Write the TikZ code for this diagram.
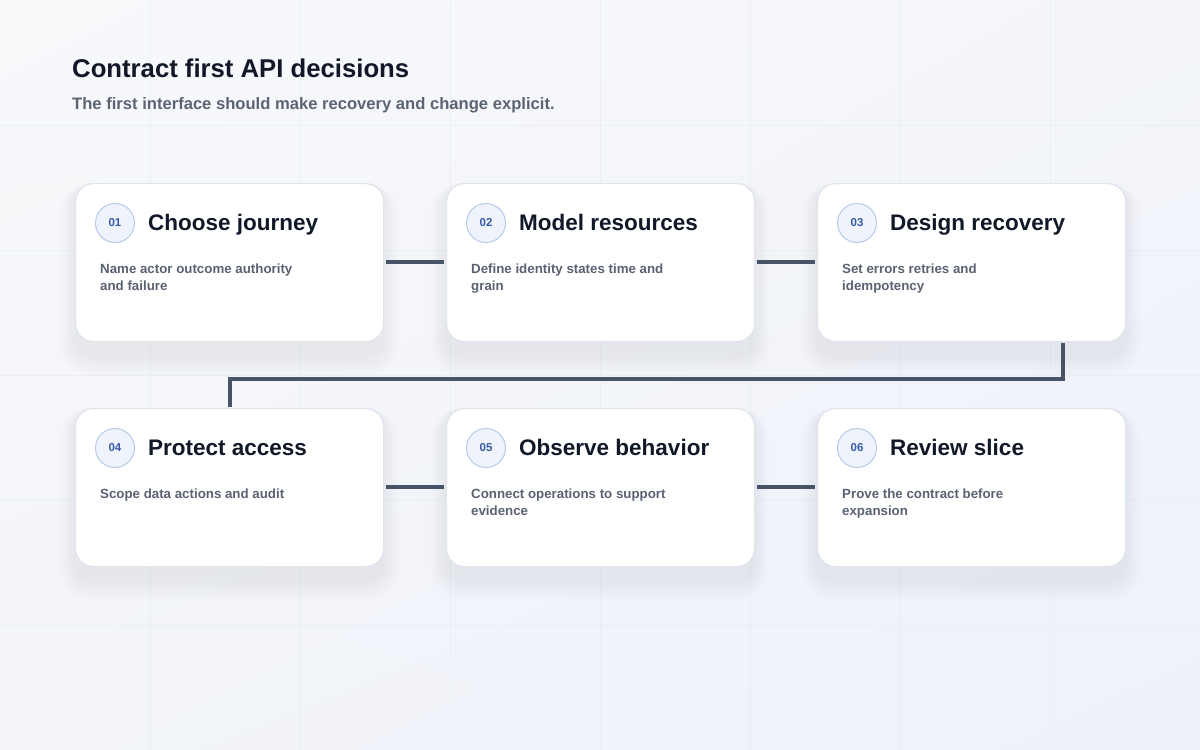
\documentclass[tikz,border=0pt]{standalone}
\usepackage{fontspec}
\setmainfont{Liberation Sans}
\usetikzlibrary{positioning,shadings}
\definecolor{bgtl}{HTML}{F8F9FB}
\definecolor{bgtr}{HTML}{F3F5FA}
\definecolor{bgbl}{HTML}{F2F4F9}
\definecolor{bgbr}{HTML}{EDF1FA}
\definecolor{gridc}{HTML}{E6EAF1}
\definecolor{cardborder}{HTML}{E0E4EB}
\definecolor{ink}{HTML}{111827}
\definecolor{subink}{HTML}{5B6474}
\definecolor{descink}{HTML}{5A6272}
\definecolor{linec}{HTML}{475467}
\definecolor{circfill}{HTML}{EEF3FC}
\definecolor{circborder}{HTML}{B7CAE8}
\definecolor{numink}{HTML}{3A5BA6}
\definecolor{shadowc}{HTML}{8590A6}
\tikzset{
  x=1pt,y=-1pt,
  card/.style={draw=cardborder,line width=1.2pt,fill=white,rounded corners=18pt,minimum width=308pt,minimum height=158pt,anchor=north west,inner sep=0pt},
  numc/.style={circle,draw=circborder,line width=1pt,fill=circfill,minimum size=39pt,inner sep=0pt,text=numink,font=\fontsize{11.5}{13}\selectfont\bfseries},
  ctitle/.style={anchor=base west,inner sep=0pt,text=ink,font=\fontsize{22.5}{26}\selectfont\bfseries},
  cdesc/.style={anchor=north west,inner sep=0pt,text=descink,align=left,font=\fontsize{13.3}{17}\selectfont\bfseries},
  conn/.style={draw=linec,line width=3.8pt},
}
\newcommand{\cardshadow}[2]{%
  \foreach \k in {1,...,14}{
    \fill[shadowc,opacity=0.009,rounded corners=18pt+\k*1pt] (#1-\k*1.1,#2+4-\k*0.3) rectangle ++(308+\k*2.2,158+10+\k*1.8);
  }}
\begin{document}
\begin{tikzpicture}
\useasboundingbox (0,0) rectangle (1200,750);
\shade[upper left=bgtl,upper right=bgtr,lower left=bgbl,lower right=bgbr] (0,0) rectangle (1200,750);
\foreach \gx in {150,300,...,1050} \draw[gridc,opacity=0.6,line width=0.8pt] (\gx,0) -- (\gx,750);
\foreach \gy in {125,250,...,625} \draw[gridc,opacity=0.6,line width=0.8pt] (0,\gy) -- (1200,\gy);

\node[anchor=base west,inner sep=0pt,text=ink,font=\fontsize{25.7}{30}\selectfont\bfseries] (title) at (72,77) {Contract first API decisions};
\node[anchor=base west,inner sep=0pt,text=subink,font=\fontsize{16.6}{19}\selectfont\bfseries] (subtitle) at (72,109) {The first interface should make recovery and change explicit.};

% shadows
\cardshadow{75}{183}\cardshadow{446}{183}\cardshadow{817}{183}
\cardshadow{75}{408}\cardshadow{446}{408}\cardshadow{817}{408}

% cards
\node[card] (c1) at (75,183) {};
\node[card] (c2) at (446,183) {};
\node[card] (c3) at (817,183) {};
\node[card] (c4) at (75,408) {};
\node[card] (c5) at (446,408) {};
\node[card] (c6) at (817,408) {};

% contents
\foreach \c/\n/\t/\d in {c1/01/Choose journey/{Name actor outcome authority\\and failure},
  c2/02/Model resources/{Define identity states time and\\grain},
  c3/03/Design recovery/{Set errors retries and\\idempotency},
  c4/04/Protect access/{Scope data actions and audit},
  c5/05/Observe behavior/{Connect operations to support\\evidence},
  c6/06/Review slice/{Prove the contract before\\expansion}}{
  \node[numc] (\c n) at ([xshift=40pt,yshift=-40pt]\c.north west) {\n};
  \node[ctitle] (\c t) at ([xshift=73pt,yshift=-47pt]\c.north west) {\t};
  \node[cdesc] (\c d) at ([xshift=25pt,yshift=-81pt]\c.north west) {\d};
}

% connectors
\coordinate (a1) at ([xshift=2pt,yshift=-79pt]c1.north east);
\coordinate (a2) at ([xshift=-2pt,yshift=-79pt]c2.north west);
\coordinate (b1) at ([xshift=2pt,yshift=-79pt]c2.north east);
\coordinate (b2) at ([xshift=-2pt,yshift=-79pt]c3.north west);
\draw[conn] (a1) -- (a2);
\draw[conn] (b1) -- (b2);
\coordinate (d1) at ([xshift=2pt,yshift=-79pt]c4.north east);
\coordinate (d2) at ([xshift=-2pt,yshift=-79pt]c5.north west);
\coordinate (e1) at ([xshift=2pt,yshift=-79pt]c5.north east);
\coordinate (e2) at ([xshift=-2pt,yshift=-79pt]c6.north west);
\draw[conn] (d1) -- (d2);
\draw[conn] (e1) -- (e2);
\coordinate (s1) at ([xshift=91pt,yshift=-1pt]c3.south);
\coordinate (s2) at ([yshift=1pt]c4.north);
\draw[conn] (s1) -- (s1 |- 0,379) -- (s2 |- 0,379) -- (s2);
\end{tikzpicture}
\end{document}
